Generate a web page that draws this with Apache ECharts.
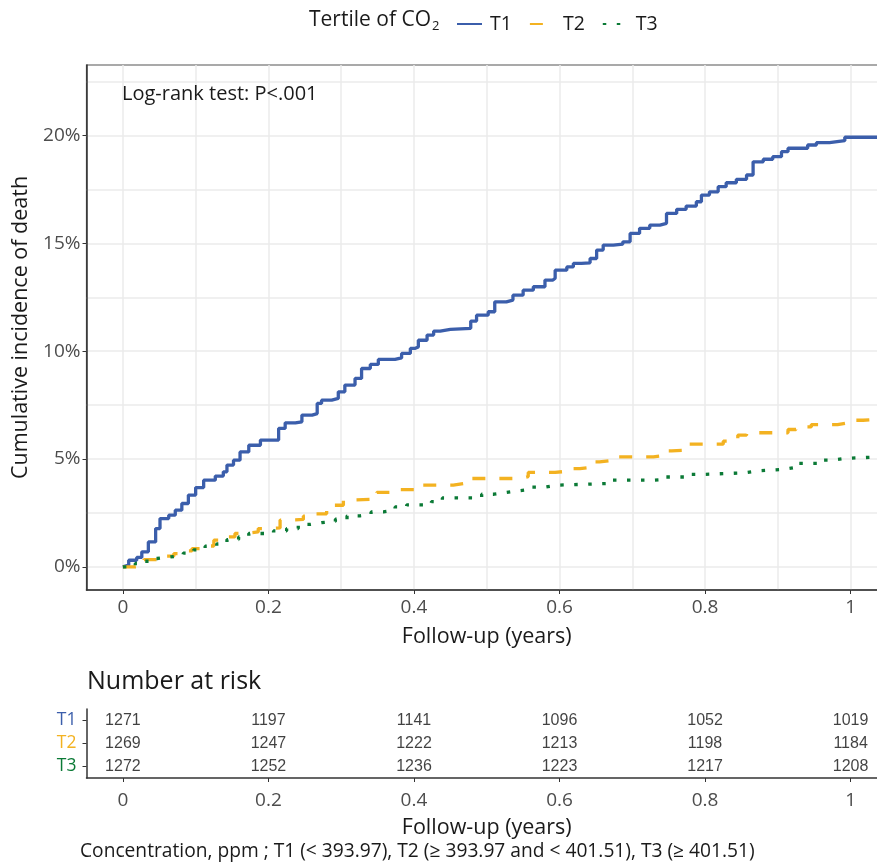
<!DOCTYPE html>
<html>
<head>
<meta charset="utf-8">
<script src="https://cdn.jsdelivr.net/npm/echarts@6/dist/echarts.min.js"></script>
<style>
html, body { margin: 0; padding: 0; background: #fff; }
#chart { width: 877px; height: 866px; }
</style>
</head>
<body>
<div id="chart"></div>
<script>
// cumulative incidence (%) as [years, percent]
var t1Points = [
    [0, 0], [0.001, 0.08], [0.008, 0.31], [0.019, 0.44], [0.026, 0.70], [0.035, 1.16],
    [0.045, 1.78], [0.051, 2.24], [0.063, 2.40], [0.072, 2.63], [0.081, 2.94], [0.090, 3.33],
    [0.100, 3.68], [0.111, 4.02], [0.127, 4.21], [0.138, 4.41], [0.143, 4.72], [0.152, 4.95],
    [0.161, 5.33], [0.173, 5.64], [0.189, 5.88], [0.214, 6.42], [0.223, 6.68], [0.237, 6.73],
    [0.246, 7.04], [0.260, 7.11], [0.267, 7.58], [0.273, 7.73], [0.287, 7.81], [0.296, 8.12],
    [0.305, 8.43], [0.319, 8.74], [0.328, 9.20], [0.340, 9.39], [0.351, 9.62], [0.374, 9.69],
    [0.383, 9.90], [0.395, 10.13], [0.401, 10.20], [0.406, 10.51], [0.418, 10.75], [0.427, 10.93],
    [0.436, 11.01], [0.450, 11.06], [0.478, 11.40], [0.486, 11.67], [0.502, 11.83], [0.511, 12.29],
    [0.527, 12.37], [0.536, 12.60], [0.550, 12.83], [0.564, 12.99], [0.580, 13.30], [0.591, 13.38],
    [0.594, 13.76], [0.610, 13.91], [0.619, 14.07], [0.630, 14.10], [0.642, 14.30], [0.651, 14.69],
    [0.660, 14.92], [0.674, 14.97], [0.687, 15.07], [0.697, 15.46], [0.710, 15.70], [0.724, 15.85],
    [0.738, 15.93], [0.747, 16.39], [0.761, 16.58], [0.774, 16.73], [0.788, 16.93], [0.795, 17.24],
    [0.806, 17.39], [0.818, 17.63], [0.829, 17.81], [0.843, 17.97], [0.857, 18.17], [0.866, 18.78],
    [0.880, 18.90], [0.893, 19.02], [0.905, 19.25], [0.914, 19.41], [0.941, 19.56], [0.953, 19.67],
    [0.971, 19.76], [0.992, 19.92], [1.04, 19.92]
];
var t2Points = [
    [0, 0], [0.017, 0.05], [0.029, 0.34], [0.049, 0.50], [0.070, 0.62], [0.077, 0.74],
    [0.095, 0.85], [0.111, 0.97], [0.125, 1.24], [0.131, 1.39], [0.154, 1.55], [0.166, 1.62],
    [0.186, 1.78], [0.200, 1.81], [0.216, 2.17], [0.228, 2.20], [0.248, 2.35], [0.260, 2.46],
    [0.280, 2.71], [0.289, 2.86], [0.303, 3.11], [0.319, 3.13], [0.340, 3.33], [0.349, 3.46],
    [0.367, 3.58], [0.401, 3.79], [0.454, 3.88], [0.470, 4.10], [0.546, 4.19], [0.557, 4.38],
    [0.594, 4.45], [0.614, 4.56], [0.628, 4.64], [0.649, 4.87], [0.655, 4.95], [0.676, 5.10],
    [0.729, 5.18], [0.747, 5.38], [0.754, 5.41], [0.776, 5.69], [0.825, 5.83], [0.845, 6.11],
    [0.857, 6.22], [0.914, 6.37], [0.925, 6.49], [0.946, 6.60], [0.982, 6.68], [0.996, 6.80],
    [1.017, 6.85], [1.04, 6.85]
];
var t3Points = [
    [0, 0], [0.017, 0.16], [0.033, 0.39], [0.047, 0.46], [0.065, 0.54], [0.083, 0.64],
    [0.097, 0.79], [0.113, 0.96], [0.129, 1.07], [0.143, 1.27], [0.159, 1.39], [0.173, 1.55],
    [0.207, 1.67], [0.225, 1.78], [0.241, 1.97], [0.257, 2.05], [0.273, 2.11], [0.292, 2.21],
    [0.308, 2.37], [0.326, 2.43], [0.341, 2.55], [0.358, 2.63], [0.374, 2.78], [0.390, 2.88],
    [0.424, 3.03], [0.439, 3.20], [0.493, 3.37], [0.510, 3.45], [0.527, 3.53], [0.544, 3.60],
    [0.562, 3.70], [0.580, 3.79], [0.596, 3.87], [0.670, 4.02], [0.729, 4.05], [0.743, 4.17],
    [0.780, 4.29], [0.797, 4.36], [0.853, 4.45], [0.871, 4.52], [0.907, 4.61], [0.923, 4.80],
    [0.957, 4.95], [0.974, 5.03], [0.992, 5.10], [1.04, 5.10]
];

// number at risk table
var groups = ['T1', 'T2', 'T3'];
var riskTimes = [0, 0.2, 0.4, 0.6, 0.8, 1];
var riskT1 = [1271, 1197, 1141, 1096, 1052, 1019];
var riskT2 = [1269, 1247, 1222, 1213, 1198, 1184];
var riskT3 = [1272, 1252, 1236, 1223, 1217, 1208];

// axis ticks
var xTicks = [0, 0.2, 0.4, 0.6, 0.8, 1];
var xGrid = [0, 0.1, 0.2, 0.3, 0.4, 0.5, 0.6, 0.7, 0.8, 0.9, 1];
var yTicks = [0, 5, 10, 15, 20];
var yGrid = [0, 2.5, 5, 7.5, 10, 12.5, 15, 17.5, 20, 22.5];

var colors = { T1: '#3B5EAB', T2: '#F3B221', T3: '#0B7A36' };
var FONT = '"Open Sans", "Noto Sans", sans-serif';

var riskData = [];
[riskT1, riskT2, riskT3].forEach(function (row, g) {
    row.forEach(function (n, i) {
        riskData.push({ value: [riskTimes[i], groups[g], n] });
    });
});

function curve(name, pts, dash) {
    return {
        name: name,
        type: 'line',
        xAxisIndex: 0,
        yAxisIndex: 0,
        data: pts,
        step: 'end',
        symbol: 'none',
        animation: false,
        lineStyle: { color: colors[name], width: 3.3, type: dash },
        itemStyle: { color: colors[name] }
    };
}

var chart = echarts.init(document.getElementById('chart'));
chart.setOption({
    backgroundColor: '#fff',
    textStyle: { fontFamily: FONT },
    title: [
        {
            text: '{a|Tertile of CO}{s|2}',
            left: 309, top: 6, padding: 0,
            textStyle: {
                rich: {
                    a: { fontSize: 21, fontWeight: 'normal', color: '#1a1a1a', fontFamily: FONT, lineHeight: 28 },
                    s: { fontSize: 13, fontWeight: 'normal', color: '#1a1a1a', fontFamily: FONT, lineHeight: 28, padding: [13, 0, 0, 1] }
                }
            }
        },
        {
            text: 'Log-rank test: P<.001',
            left: 122, top: 84, padding: 0,
            textStyle: { fontSize: 20, fontWeight: 'normal', color: '#1a1a1a', fontFamily: FONT }
        },
        {
            text: 'Number at risk',
            left: 87, top: 669, padding: 0,
            textStyle: { fontSize: 25, fontWeight: 'normal', color: '#1a1a1a', fontFamily: FONT }
        },
        {
            text: 'Concentration, ppm ; T1 (< 393.97), T2 (\u2265 393.97 and < 401.51), T3 (\u2265 401.51)',
            left: 80, top: 842, padding: 0,
            textStyle: { fontSize: 19.2, fontWeight: 'normal', color: '#1a1a1a', fontFamily: FONT }
        }
    ],
    legend: {
        data: groups,
        left: 451, top: 9,
        itemWidth: 25, itemHeight: 18, itemGap: 17,
        itemStyle: { opacity: 0 },
        textStyle: { fontSize: 19.5, color: '#1a1a1a', fontFamily: FONT, padding: [0, 0, 0, 3] }
    },
    grid: [
        {
            left: 86.5, right: -10, top: 65, bottom: 276, outerBoundsMode: 'none',
            show: true, borderColor: '#555', borderWidth: 1.2, backgroundColor: '#fff'
        },
        { left: 86.5, right: -10, top: 709, height: 69, outerBoundsMode: 'none' }
    ],
    xAxis: [
        {
            gridIndex: 0, type: 'value', min: -0.05, max: 1.05,
            name: 'Follow-up (years)', nameLocation: 'middle', nameGap: 36,
            nameTextStyle: { fontSize: 21.5, color: '#1a1a1a', fontFamily: FONT },
            axisLine: { show: true, onZero: false, lineStyle: { color: '#333', width: 1.5 } },
            axisTick: { show: true, length: 4, customValues: xTicks, lineStyle: { color: '#333' } },
            axisLabel: { customValues: xTicks, color: '#4d4d4d', fontSize: 19, margin: 8, fontFamily: FONT },
            splitLine: { show: false }
        },
        {
            gridIndex: 0, type: 'value', min: -0.05, max: 1.05, position: 'bottom',
            axisLine: { show: false },
            axisTick: { show: false, customValues: xGrid },
            axisLabel: { show: false, customValues: xGrid },
            splitLine: { show: true, lineStyle: { color: '#ebebeb', width: 1.5 } }
        },
        {
            gridIndex: 1, type: 'value', min: -0.05, max: 1.05,
            name: 'Follow-up (years)', nameLocation: 'middle', nameGap: 39,
            nameTextStyle: { fontSize: 21.5, color: '#1a1a1a', fontFamily: FONT },
            axisLine: { show: true, onZero: false, lineStyle: { color: '#333', width: 1.5 } },
            axisTick: { show: true, length: 4, customValues: xTicks, lineStyle: { color: '#333' } },
            axisLabel: { customValues: xTicks, color: '#4d4d4d', fontSize: 19, margin: 13, fontFamily: FONT },
            splitLine: { show: false }
        }
    ],
    yAxis: [
        {
            gridIndex: 0, type: 'value', min: -1.07, max: 23.27,
            name: 'Cumulative incidence of death', nameLocation: 'middle', nameGap: 54,
            nameTextStyle: { fontSize: 21.5, color: '#1a1a1a', fontFamily: FONT },
            axisLine: { show: true, onZero: false, lineStyle: { color: '#333', width: 1.5 } },
            axisTick: { show: true, length: 4, customValues: yTicks, lineStyle: { color: '#333' } },
            axisLabel: {
                customValues: yTicks, color: '#4d4d4d', fontSize: 19, margin: 6, fontFamily: FONT,
                formatter: function (v) { return v + '%'; }
            },
            splitLine: { show: false }
        },
        {
            gridIndex: 0, type: 'value', min: -1.07, max: 23.27, position: 'left',
            axisLine: { show: false },
            axisTick: { show: false, customValues: yGrid },
            axisLabel: { show: false, customValues: yGrid },
            splitLine: { show: true, lineStyle: { color: '#ebebeb', width: 1.5 } }
        },
        {
            gridIndex: 1, type: 'category', data: groups, inverse: true,
            axisLine: { show: true, onZero: false, lineStyle: { color: '#333', width: 1.5 } },
            axisTick: { show: true, length: 4, alignWithLabel: true, interval: 0, lineStyle: { color: '#333' } },
            axisLabel: {
                fontSize: 17.5, margin: 10, interval: 0, fontFamily: FONT,
                color: function (v) { return colors[v]; }
            },
            splitLine: { show: false }
        }
    ],
    series: [
        curve('T1', t1Points, 'solid'),
        curve('T2', t2Points, [13, 14]),
        curve('T3', t3Points, [3.5, 10.5]),
        {
            type: 'scatter',
            xAxisIndex: 2,
            yAxisIndex: 2,
            data: riskData,
            symbolSize: 1,
            silent: true,
            animation: false,
            itemStyle: { color: 'rgba(0,0,0,0)' },
            label: {
                show: true,
                position: 'inside',
                formatter: function (p) { return p.value[2]; },
                fontSize: 16,
                color: '#111',
                fontFamily: '"Liberation Sans", Arial, sans-serif'
            }
        }
    ]
});
</script>
</body>
</html>
